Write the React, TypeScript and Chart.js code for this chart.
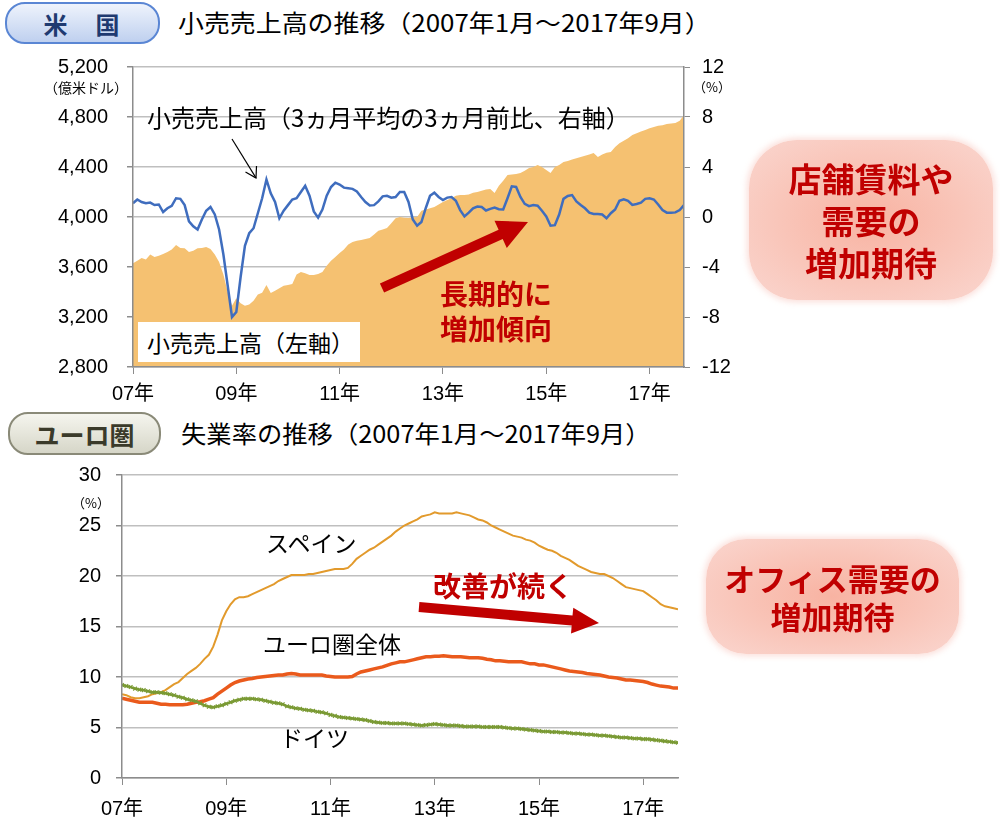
import React, { useEffect, useRef } from 'react';
import { Chart, registerables } from 'chart.js';
Chart.register(...registerables);

// ---------- data ----------
const xTickIdx = [0, 24, 48, 72, 96, 120];
const xTickLabels = ['07年', '09年', '11年', '13年', '15年', '17年'];

// US retail sales (億米ドル), monthly Jan 2007 - Sep 2017
const retailSales = [
  3630, 3650, 3672, 3660, 3700, 3680, 3690, 3705, 3720, 3740,
  3776, 3752, 3750, 3720, 3730, 3750, 3752, 3760, 3745, 3700,
  3640, 3540, 3400, 3290, 3350, 3310, 3290, 3300, 3330, 3380,
  3395, 3456, 3392, 3410, 3430, 3450, 3456, 3464, 3540, 3560,
  3550, 3536, 3536, 3545, 3560, 3610, 3650, 3680, 3712, 3740,
  3780, 3800, 3810, 3816, 3825, 3832, 3860, 3890, 3900, 3912,
  3950, 3990, 4000, 3995, 3992, 3998, 4000, 4050, 4060, 4070,
  4080, 4100, 4120, 4136, 4150, 4170, 4176, 4176, 4180, 4195,
  4200, 4210, 4220, 4224, 4192, 4250, 4290, 4336, 4340, 4345,
  4352, 4370, 4392, 4400, 4416, 4400, 4376, 4352, 4400, 4416,
  4440, 4448, 4460, 4470, 4480, 4490, 4500, 4512, 4480, 4500,
  4515, 4520, 4560, 4590, 4610, 4630, 4656, 4670, 4685, 4696,
  4710, 4720, 4730, 4735, 4744, 4748, 4752, 4770, 4816,
];

// 3-month average, vs 3 months earlier (%), right axis
const retailGrowth = [
  1.1, 1.4, 1.2, 1.1, 1.15, 0.96, 1.0, 0.4, 0.7, 0.9,
  1.5, 1.45, 0.95, -0.35, -0.75, -1.0, -0.2, 0.5, 0.8, 0.2,
  -1.0, -3.0, -5.5, -8.0, -7.6, -4.8, -2.3, -1.3, -0.9, 0.3,
  1.5, 3.0, 1.9, 1.2, -0.1, 0.5, 0.95, 1.4, 1.5, 2.0,
  2.5, 1.7, 0.45, -0.05, 0.6, 1.7, 2.4, 2.75, 2.6, 2.35,
  2.3, 2.25, 2.05, 1.6, 1.2, 0.92, 0.95, 1.25, 1.65, 1.7,
  1.55, 1.6, 2.0, 2.0, 1.2, -0.2, -0.7, -0.4, 0.7, 1.7,
  1.95, 1.6, 1.36, 1.55, 1.6, 1.3, 0.55, 0.05, 0.35, 0.7,
  0.83, 0.8, 0.52, 0.65, 0.75, 0.62, 0.6, 1.5, 2.45, 2.4,
  1.6, 1.05, 0.87, 0.95, 0.9, 0.5, 0.05, -0.7, -0.65, 0.2,
  1.45, 1.68, 1.75, 1.25, 0.96, 0.7, 0.35, 0.24, 0.24, 0.2,
  -0.1, 0.3, 0.6, 1.3, 1.41, 1.3, 0.97, 1.04, 1.15, 1.45,
  1.49, 1.4, 1.0, 0.56, 0.35, 0.35, 0.37, 0.56, 0.96,
];

// Unemployment rate (%)
const spain = [
  8.3, 8.2, 8.0, 7.9, 7.9, 8.0, 8.1, 8.3, 8.4, 8.5,
  8.7, 9.0, 9.3, 9.5, 9.9, 10.3, 10.6, 10.9, 11.3, 11.8,
  12.2, 13.0, 14.2, 15.6, 16.5, 17.2, 17.7, 17.9, 17.9, 18.0,
  18.2, 18.4, 18.6, 18.8, 19.0, 19.2, 19.5, 19.7, 19.9, 20.1,
  20.1, 20.1, 20.1, 20.2, 20.2, 20.3, 20.4, 20.5, 20.6, 20.7,
  20.7, 20.7, 20.8, 21.2, 21.7, 22.0, 22.3, 22.6, 22.8, 23.1,
  23.4, 23.7, 24.0, 24.4, 24.7, 25.0, 25.2, 25.4, 25.6, 25.9,
  26.0, 26.1, 26.3, 26.2, 26.2, 26.2, 26.2, 26.3, 26.2, 26.1,
  26.0, 25.8, 25.6, 25.5, 25.3, 25.0, 24.8, 24.6, 24.4, 24.2,
  24.0, 23.9, 23.8, 23.6, 23.5, 23.3, 23.0, 22.8, 22.6, 22.5,
  22.3, 22.0, 21.8, 21.6, 21.3, 21.0, 20.8, 20.6, 20.4, 20.3,
  20.2, 20.2, 20.0, 19.8, 19.5, 19.2, 18.9, 18.8, 18.7, 18.6,
  18.5, 18.2, 17.9, 17.6, 17.2, 17.0, 16.9, 16.8, 16.7,
];

const euroArea = [
  7.9, 7.8, 7.7, 7.6, 7.5, 7.5, 7.5, 7.5, 7.4, 7.3,
  7.3, 7.25, 7.25, 7.25, 7.25, 7.3, 7.4, 7.5, 7.55, 7.65,
  7.8, 7.95, 8.3, 8.6, 8.9, 9.2, 9.45, 9.6, 9.7, 9.8,
  9.85, 9.95, 10.0, 10.05, 10.1, 10.15, 10.2, 10.2, 10.3, 10.35,
  10.3, 10.2, 10.2, 10.2, 10.2, 10.2, 10.2, 10.1, 10.05, 10.0,
  10.0, 10.0, 10.0, 10.05, 10.3, 10.5, 10.6, 10.7, 10.8, 10.9,
  11.0, 11.15, 11.3, 11.4, 11.5, 11.5, 11.6, 11.7, 11.8, 11.9,
  12.0, 12.0, 12.05, 12.05, 12.1, 12.05, 12.0, 12.0, 12.0, 11.95,
  11.9, 11.9, 11.9, 11.85, 11.75, 11.7, 11.6, 11.6, 11.55, 11.5,
  11.5, 11.5, 11.5, 11.4, 11.3, 11.3, 11.2, 11.2, 11.1, 11.0,
  10.9, 10.8, 10.7, 10.6, 10.55, 10.5, 10.45, 10.35, 10.3, 10.25,
  10.2, 10.1, 10.0, 9.95, 9.9, 9.8, 9.7, 9.7, 9.65, 9.6,
  9.55, 9.45, 9.3, 9.2, 9.1, 9.05, 9.0, 8.9, 8.9,
];

const germany = [
  9.2, 9.1, 9.0, 8.85, 8.75, 8.7, 8.6, 8.5, 8.5, 8.45,
  8.4, 8.3, 8.2, 8.05, 7.95, 7.8, 7.7, 7.6, 7.4, 7.2,
  7.05, 7.0, 7.1, 7.2, 7.35, 7.5, 7.65, 7.75, 7.85, 7.85,
  7.85, 7.8, 7.75, 7.65, 7.55, 7.45, 7.4, 7.3, 7.1, 7.0,
  6.9, 6.85, 6.75, 6.7, 6.65, 6.55, 6.5, 6.4, 6.25, 6.15,
  6.05, 6.0, 5.95, 5.9, 5.85, 5.8, 5.75, 5.65, 5.55, 5.5,
  5.45, 5.45, 5.4, 5.4, 5.4, 5.4, 5.35, 5.3, 5.25, 5.2,
  5.25, 5.3, 5.35, 5.3, 5.25, 5.2, 5.2, 5.2, 5.15, 5.1,
  5.1, 5.1, 5.1, 5.05, 5.05, 5.05, 5.05, 5.05, 5.0, 4.95,
  4.9, 4.9, 4.85, 4.8, 4.75, 4.7, 4.65, 4.6, 4.6, 4.55,
  4.55, 4.5, 4.5, 4.45, 4.4, 4.4, 4.35, 4.3, 4.3, 4.25,
  4.2, 4.2, 4.15, 4.1, 4.05, 4.0, 4.0, 3.95, 3.9, 3.9,
  3.85, 3.85, 3.8, 3.75, 3.7, 3.65, 3.6, 3.55, 3.5,
];

const leftTicks = [2800, 3200, 3600, 4000, 4400, 4800, 5200];
const rightTicks = [-12, -8, -4, 0, 4, 8, 12];
const unempTicks = [0, 5, 10, 15, 20, 25, 30];

// ---------- styles ----------
const FONT_JP = "'Noto Sans CJK JP', 'Noto Sans', sans-serif";
const FONT_NUM = "'Liberation Sans', 'Noto Sans CJK JP', sans-serif";
const AXIS = '#8C8C8C';
const GRID = '#BFBFBF';
const RED = '#C00000';

const toPts = (arr: number[]) => arr.map((v, i) => ({ x: i, y: v }));
const xTickCb = (v: any) => {
  const k = xTickIdx.indexOf(Number(v));
  return k >= 0 ? xTickLabels[k] : '';
};

function xScale(height: number, pad: number) {
  return {
    type: 'linear',
    min: 0,
    max: 128,
    afterBuildTicks: (s: any) => { s.ticks = xTickIdx.map((v) => ({ value: v })); },
    afterFit: (s: any) => { s.height = height; s.paddingLeft = 0; s.paddingRight = 0; },
    grid: { display: true, drawOnChartArea: false, drawTicks: true, tickLength: 7, color: AXIS, lineWidth: 1 },
    border: { display: true, color: AXIS, width: 1.5, z: 1 },
    ticks: { autoSkip: false, maxRotation: 0, padding: pad, color: '#000', font: { size: 20, family: FONT_NUM }, callback: xTickCb },
  };
}

function yFit(width: number) {
  return (s: any) => { s.width = width; s.paddingTop = 0; s.paddingBottom = 0; };
}

function arrowPoly(x1: number, y1: number, x2: number, y2: number, shaft: number, headLen: number, headHalf: number) {
  const dx = x2 - x1, dy = y2 - y1, L = Math.hypot(dx, dy);
  const ux = dx / L, uy = dy / L, nx = -uy, ny = ux;
  const bx = x2 - ux * headLen, by = y2 - uy * headLen, h = shaft / 2;
  const p = [
    [x1 + nx * h, y1 + ny * h], [bx + nx * h, by + ny * h], [bx + nx * headHalf, by + ny * headHalf],
    [x2, y2], [bx - nx * headHalf, by - ny * headHalf], [bx - nx * h, by - ny * h], [x1 - nx * h, y1 - ny * h],
  ];
  return p.map((q) => q[0].toFixed(1) + ',' + q[1].toFixed(1)).join(' ');
}

const txt = (extra: React.CSSProperties): React.CSSProperties => ({
  position: 'absolute', whiteSpace: 'nowrap', lineHeight: 1, fontFamily: FONT_JP, color: '#000', ...extra,
});

const pinkBox: React.CSSProperties = {
  position: 'absolute',
  background: 'radial-gradient(ellipse at center, #F8B3A2 0%, #F9C6BA 55%, #FAD6CF 100%)',
  boxShadow: '0 0 6px 2px rgba(250,214,207,0.8)',
  display: 'flex', flexDirection: 'column', alignItems: 'center', justifyContent: 'center',
  color: RED, fontWeight: 700, fontFamily: FONT_JP, whiteSpace: 'nowrap',
};

export default function App() {
  const topRef = useRef<HTMLCanvasElement>(null);
  const botRef = useRef<HTMLCanvasElement>(null);

  useEffect(() => {
    const c1 = new Chart(topRef.current as HTMLCanvasElement, {
      type: 'line',
      data: {
        datasets: [
          {
            label: '小売売上高（3ヵ月平均の3ヵ月前比、右軸）',
            data: toPts(retailGrowth), yAxisID: 'y2', xAxisID: 'x',
            borderColor: '#3F6DBE', borderWidth: 2.5, pointRadius: 0, fill: false, order: 0,
          },
          {
            label: '小売売上高（左軸）',
            data: toPts(retailSales), yAxisID: 'y', xAxisID: 'x',
            backgroundColor: '#F5C171', borderColor: '#F5C171', borderWidth: 0, pointRadius: 0, fill: 'start', order: 1,
          },
        ],
      } as any,
      options: {
        responsive: false, animation: false,
        layout: { padding: { top: 17, left: 0, right: 0, bottom: 0 } },
        plugins: { legend: { display: false }, tooltip: { enabled: false } },
        scales: {
          x: xScale(43, 8),
          y: {
            position: 'left', min: 2800, max: 5200,
            afterBuildTicks: (s: any) => { s.ticks = leftTicks.map((v) => ({ value: v })); },
            afterFit: yFit(133),
            grid: { color: GRID, lineWidth: 1.5, tickLength: 6, tickColor: AXIS },
            border: { display: true, color: AXIS, width: 1.5, z: 1 },
            ticks: { padding: 19, color: '#000', font: { size: 20, family: FONT_NUM }, callback: (v: any) => Number(v).toLocaleString('en-US') },
          },
          y2: {
            position: 'right', min: -12, max: 12,
            afterBuildTicks: (s: any) => { s.ticks = rightTicks.map((v) => ({ value: v })); },
            afterFit: yFit(76),
            grid: { drawOnChartArea: false, tickLength: 6, color: AXIS },
            border: { display: true, color: AXIS, width: 1.5, z: 1 },
            ticks: { padding: 12, color: '#000', font: { size: 20, family: FONT_NUM } },
          },
        } as any,
      },
    });

    const c2 = new Chart(botRef.current as HTMLCanvasElement, {
      type: 'line',
      data: {
        datasets: [
          { label: 'ドイツ', data: toPts(germany), borderColor: '#7A9A34', borderWidth: 2.5, pointStyle: 'crossRot', pointRadius: 2.6, pointBorderWidth: 1.2, pointBorderColor: '#7A9A34', fill: false },
          { label: 'ユーロ圏全体', data: toPts(euroArea), borderColor: '#EA5A1C', borderWidth: 3.5, pointRadius: 0, fill: false },
          { label: 'スペイン', data: toPts(spain), borderColor: '#E29A2C', borderWidth: 2, pointRadius: 0, fill: false },
        ],
      } as any,
      options: {
        responsive: false, animation: false,
        layout: { padding: { top: 20, left: 0, right: 22, bottom: 0 } },
        plugins: { legend: { display: false }, tooltip: { enabled: false } },
        scales: {
          x: xScale(42, 12),
          y: {
            position: 'left', min: 0, max: 30,
            afterBuildTicks: (s: any) => { s.ticks = unempTicks.map((v) => ({ value: v })); },
            afterFit: yFit(122),
            grid: { color: GRID, lineWidth: 1.5, tickLength: 6, tickColor: AXIS },
            border: { display: true, color: AXIS, width: 1.5, z: 1 },
            ticks: { padding: 15, color: '#000', font: { size: 20, family: FONT_NUM } },
          },
        } as any,
      },
    });
    return () => { c1.destroy(); c2.destroy(); };
  }, []);

  const titleStyle = (left: number, top: number, sx: number) =>
    txt({ left, top, fontSize: 24, transform: `scaleX(${sx})`, transformOrigin: 'left center' });

  return (
    <div style={{ position: 'absolute', left: 0, top: 0, width: 1000, height: 820, overflow: 'hidden', background: '#fff', fontFamily: FONT_JP }}>
      <canvas ref={topRef} width={760} height={360} style={{ position: 'absolute', left: 0, top: 50, width: 760, height: 360 }} />
      <canvas ref={botRef} width={700} height={365} style={{ position: 'absolute', left: 0, top: 455, width: 700, height: 365 }} />

      {/* ---- top panel ---- */}
      <div style={{
        position: 'absolute', left: 5, top: 2, width: 151, height: 38, borderRadius: 20,
        border: '2px solid #5A86D4', background: 'linear-gradient(#EEF3FC, #BFD0EF)',
        display: 'flex', alignItems: 'center', justifyContent: 'center',
        fontFamily: FONT_JP, fontWeight: 700, fontSize: 24, color: '#1F3A70', letterSpacing: 2,
      }}>米　国</div>
      <div style={titleStyle(178, 10, 1.08)}>小売売上高の推移（2007年1月～2017年9月）</div>
      <div style={txt({ left: 44, top: 80, fontSize: 14 })}>（億米ドル）</div>
      <div style={txt({ left: 693, top: 80, fontSize: 13 })}>（%）</div>
      <div style={txt({ left: 147, top: 105, fontSize: 24 })}>小売売上高（3ヵ月平均の3ヵ月前比、右軸）</div>
      <div style={{ position: 'absolute', left: 138, top: 322, width: 222, height: 40, background: '#fff' }} />
      <div style={txt({ left: 147, top: 331, fontSize: 23 })}>小売売上高（左軸）</div>
      <div style={txt({ left: 440, top: 276, fontSize: 28, fontWeight: 700, color: RED, lineHeight: '35px', textAlign: 'center', whiteSpace: 'pre' })}>{'長期的に\n増加傾向'}</div>
      <div style={{ ...pinkBox, left: 749, top: 140, width: 244, height: 160, borderRadius: 48, fontSize: 33, lineHeight: '42px' }}>
        <div>店舗賃料や</div><div>需要の</div><div>増加期待</div>
      </div>

      {/* ---- bottom panel ---- */}
      <div style={{
        position: 'absolute', left: 8, top: 412, width: 149, height: 39, borderRadius: 20,
        border: '2px solid #8A8A78', background: 'linear-gradient(#F5F5EE, #D6D6C8)',
        display: 'flex', alignItems: 'center', justifyContent: 'center',
        fontFamily: FONT_JP, fontWeight: 700, fontSize: 25, color: '#3A3A2A',
      }}>ユーロ圏</div>
      <div style={titleStyle(181, 421, 1.055)}>失業率の推移（2007年1月～2017年9月）</div>
      <div style={txt({ left: 72, top: 496, fontSize: 13 })}>（%）</div>
      <div style={txt({ left: 266, top: 531, fontSize: 23 })}>スペイン</div>
      <div style={txt({ left: 263, top: 632, fontSize: 23 })}>ユーロ圏全体</div>
      <div style={txt({ left: 280, top: 726, fontSize: 23 })}>ドイツ</div>
      <div style={txt({ left: 433, top: 571, fontSize: 28, fontWeight: 700, color: RED })}>改善が続く</div>
      <div style={{ ...pinkBox, left: 706, top: 539, width: 253, height: 115, borderRadius: 40, fontSize: 31, lineHeight: '38px' }}>
        <div>オフィス需要の</div><div>増加期待</div>
      </div>

      <svg width={1000} height={820} style={{ position: 'absolute', left: 0, top: 0, pointerEvents: 'none' }}>
        <line x1={232} y1={139} x2={256} y2={178} stroke="#000" strokeWidth={1.2} />
        <polyline points="245.5,172 256,178 256.5,166" fill="none" stroke="#000" strokeWidth={1.2} />
        <polygon points={arrowPoly(382, 288, 528, 222, 10, 30, 15)} fill={RED} />
        <polygon points={arrowPoly(419, 607, 599, 623, 10, 27, 13)} fill={RED} />
      </svg>
    </div>
  );
}
